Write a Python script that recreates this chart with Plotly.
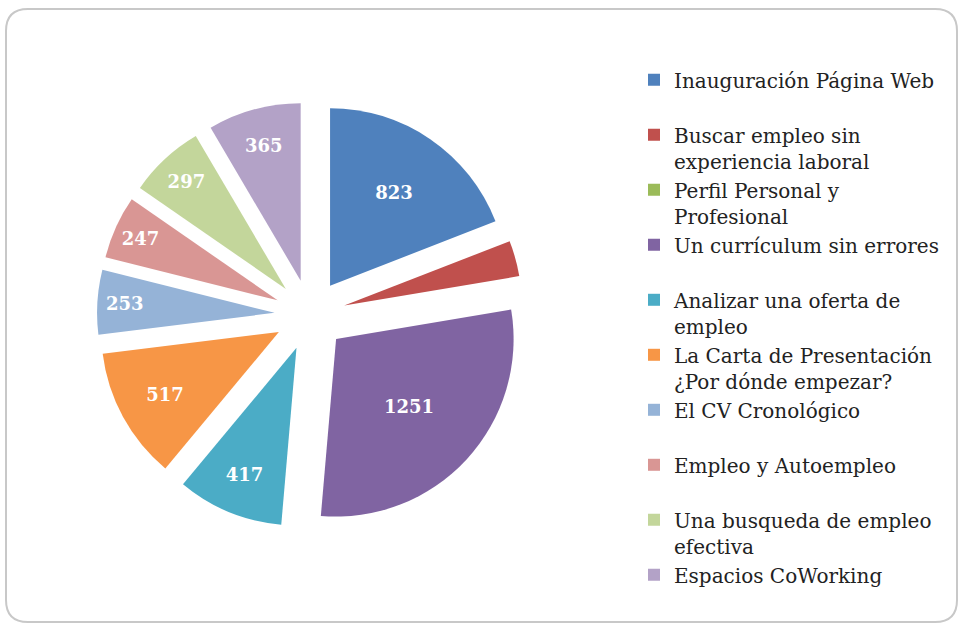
import plotly.graph_objects as go

labels = [
    "Inauguración Página Web<br> ",
    "Buscar empleo sin<br>experiencia laboral",
    "Perfil Personal y<br>Profesional",
    "Un currículum sin errores<br> ",
    "Analizar una oferta de<br>empleo",
    "La Carta de Presentación<br>¿Por dónde empezar?",
    "El CV Cronológico<br> ",
    "Empleo y Autoempleo<br> ",
    "Una busqueda de empleo<br>efectiva",
    "Espacios CoWorking",
]
values = [823, 140, 0, 1251, 417, 517, 253, 247, 297, 365]
show_label = [True, False, False, True, True, True, True, True, True, True]
colors = ["#4F81BD", "#C0504D", "#9BBB59", "#8064A2", "#4BACC6",
          "#F79646", "#95B3D7", "#D99694", "#C3D69B", "#B3A2C7"]

texts = [f"<b>{v}</b>" if s else "" for v, s in zip(values, show_label)]

W, H = 961, 628
cx, cy, half = 310, 315, 213

fig = go.Figure(go.Pie(
    labels=labels,
    values=values,
    text=texts,
    textinfo="text",
    textposition="inside",
    insidetextfont=dict(color="white", size=18, family="DejaVu Serif"),
    marker=dict(colors=colors, line=dict(width=0)),
    pull=[0.2] * len(values),
    sort=False,
    direction="clockwise",
    rotation=0,
    domain=dict(x=[(cx - half) / W, (cx + half) / W],
                y=[1 - (cy + half) / H, 1 - (cy - half) / H]),
    hoverinfo="label+value",
))

x0, y0, x1, y1, r = 6, 9, 957, 622, 22
def px(x):
    return x / W
def py(y):
    return 1 - y / H
path = (f"M {px(x0+r)},{py(y0)} L {px(x1-r)},{py(y0)} "
        f"Q {px(x1)},{py(y0)} {px(x1)},{py(y0+r)} "
        f"L {px(x1)},{py(y1-r)} Q {px(x1)},{py(y1)} {px(x1-r)},{py(y1)} "
        f"L {px(x0+r)},{py(y1)} Q {px(x0)},{py(y1)} {px(x0)},{py(y1-r)} "
        f"L {px(x0)},{py(y0+r)} Q {px(x0)},{py(y0)} {px(x0+r)},{py(y0)} Z")

fig.update_layout(
    width=W, height=H,
    margin=dict(l=0, r=0, t=0, b=0),
    paper_bgcolor="white",
    showlegend=True,
    legend=dict(
        x=634 / W, y=0.904, xanchor="left", yanchor="top",
        font=dict(family="DejaVu Serif", size=20, color="#222222"),
        valign="top",
        itemwidth=30,
        tracegroupgap=0,
    ),
    shapes=[dict(type="path", xref="paper", yref="paper", path=path,
                 line=dict(color="#C8C8C8", width=2), fillcolor="rgba(0,0,0,0)")],
)

fig.write_html("out.html", config={"displayModeBar": False},
               post_script="document.body.style.margin='0';")
